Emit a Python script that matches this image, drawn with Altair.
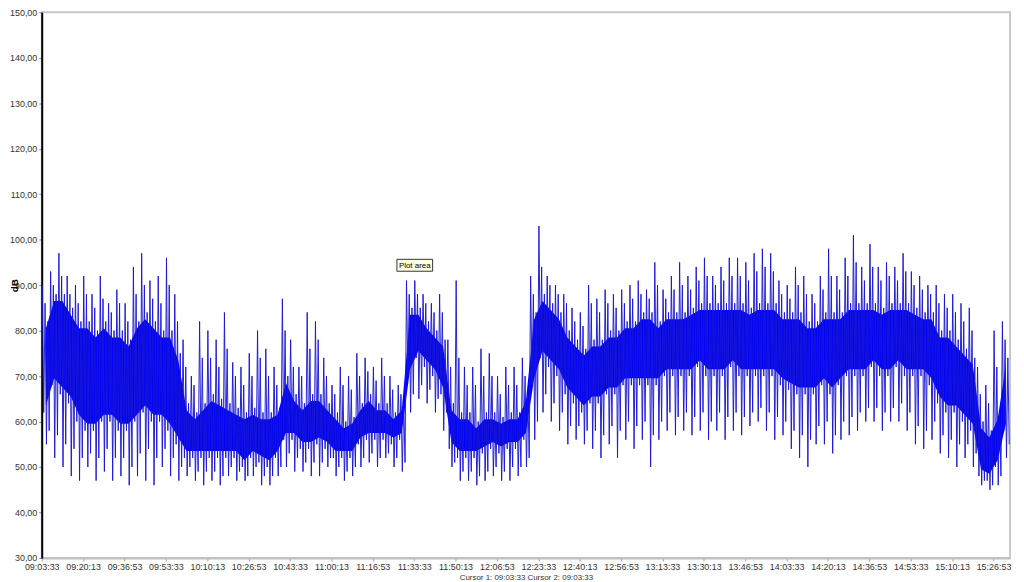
import altair as alt
import pandas as pd

# Start time 09:03:33 in seconds of the day, bin length in seconds
START_SEC = 32613
BIN = 200

# Per 200 s bin: dense core band (low/high) and spike extremes (dB)
core_lo = [62, 68, 66, 64, 60, 58, 58, 60, 60, 58, 58, 60, 62, 60, 60, 58, 55, 52, 52, 52,
           52, 52, 52, 52, 50, 52, 51, 50, 52, 56, 56, 54, 54, 55, 54, 52, 52, 52, 55, 56,
           56, 56, 55, 56, 70, 74, 72, 70, 66, 54, 52, 52, 52, 53, 54, 53, 54, 54, 56, 68,
           74, 72, 70, 66, 64, 62, 64, 64, 66, 66, 68, 68, 68, 68, 68, 70, 70, 70, 70, 72,
           70, 70, 70, 72, 70, 70, 70, 70, 70, 68, 67, 66, 66, 66, 68, 66, 68, 70, 70, 70,
           72, 70, 70, 72, 70, 70, 70, 68, 64, 62, 62, 60, 58, 48, 47, 50, 58]
core_hi = [82, 88, 88, 85, 82, 82, 80, 82, 80, 80, 78, 82, 84, 82, 80, 80, 75, 64, 62, 64,
           66, 65, 64, 63, 62, 63, 62, 62, 63, 70, 66, 64, 66, 66, 64, 62, 60, 61, 64, 66,
           64, 64, 62, 64, 85, 85, 82, 80, 78, 64, 62, 62, 60, 62, 62, 61, 62, 62, 66, 84,
           88, 86, 84, 80, 78, 76, 78, 78, 80, 80, 82, 82, 84, 84, 82, 84, 84, 84, 85, 86,
           86, 86, 86, 86, 86, 85, 86, 86, 86, 84, 84, 84, 82, 82, 84, 84, 84, 86, 86, 86,
           86, 85, 86, 86, 86, 85, 84, 84, 80, 80, 78, 76, 74, 60, 58, 62, 74]
spike_lo = [55, 52, 50, 48, 47, 50, 47, 49, 47, 48, 46, 48, 47, 46, 50, 48, 47, 48, 47, 46,
            47, 46, 48, 47, 47, 48, 46, 46, 48, 50, 49, 49, 48, 48, 50, 48, 47, 48, 50, 51,
            50, 52, 50, 49, 62, 65, 64, 62, 58, 50, 47, 47, 46, 47, 48, 47, 47, 48, 50, 56,
            62, 60, 58, 55, 56, 55, 54, 52, 55, 52, 56, 54, 56, 50, 56, 58, 57, 58, 57, 58,
            56, 58, 56, 58, 57, 59, 60, 58, 56, 57, 54, 52, 50, 55, 55, 53, 56, 57, 58, 60,
            60, 58, 60, 60, 58, 55, 54, 56, 53, 52, 50, 52, 50, 46, 45, 46, 52]
spike_hi = [90, 93, 97, 92, 90, 92, 88, 92, 86, 89, 86, 94, 97, 91, 92, 96, 88, 78, 70, 82,
            80, 78, 84, 73, 72, 75, 80, 76, 72, 87, 78, 72, 84, 82, 74, 68, 72, 70, 75, 74,
            72, 74, 70, 68, 91, 91, 88, 86, 88, 78, 91, 72, 72, 76, 75, 70, 72, 72, 74, 92,
            103, 92, 90, 88, 85, 84, 90, 87, 89, 88, 89, 90, 91, 89, 95, 89, 92, 95, 92, 94,
            96, 92, 94, 96, 96, 95, 97, 98, 97, 91, 90, 94, 92, 88, 92, 98, 92, 96, 101, 94,
            99, 94, 95, 94, 97, 93, 92, 90, 90, 88, 88, 86, 85, 72, 68, 80, 82]
# Secondary (smaller) spikes per bin
spike_hi2 = [86, 90, 92, 88, 86, 88, 85, 87, 84, 86, 82, 88, 90, 87, 86, 90, 82, 72, 68, 74,
             74, 72, 76, 70, 68, 70, 74, 70, 68, 80, 72, 70, 76, 78, 70, 66, 68, 67, 70, 71,
             69, 70, 67, 66, 88, 88, 86, 84, 84, 72, 74, 68, 68, 70, 70, 66, 68, 68, 70, 88,
             94, 90, 88, 86, 82, 81, 86, 84, 86, 85, 86, 87, 88, 87, 90, 87, 89, 90, 89, 91,
             92, 90, 91, 92, 92, 91, 93, 94, 93, 88, 87, 90, 88, 86, 89, 92, 89, 92, 95, 91,
             94, 91, 92, 91, 93, 90, 89, 88, 86, 85, 84, 82, 80, 66, 64, 72, 78]
spike_lo2 = [58, 57, 55, 54, 52, 53, 52, 54, 52, 52, 50, 53, 54, 52, 54, 52, 50, 50, 49, 49,
             49, 48, 50, 49, 48, 50, 48, 48, 50, 53, 52, 51, 51, 51, 52, 50, 49, 50, 52, 53,
             52, 53, 52, 51, 66, 68, 67, 65, 62, 51, 49, 49, 48, 49, 50, 49, 50, 50, 52, 60,
             66, 64, 62, 59, 59, 58, 58, 57, 59, 58, 60, 59, 60, 57, 60, 62, 61, 62, 61, 62,
             60, 62, 61, 62, 61, 62, 63, 62, 61, 60, 58, 57, 56, 59, 60, 57, 60, 61, 62, 63,
             63, 62, 63, 64, 62, 59, 58, 60, 57, 56, 55, 55, 53, 47, 46, 48, 55]

x_ticks = list(range(0, 23001, 1000))
y_ticks = list(range(30, 151, 10))

# Build tables from the arrays (six readings per bin, in time order)
rows = []
for i in range(len(core_lo)):
    t0 = i * BIN
    seq = [spike_hi[i], core_lo[i], spike_hi2[i], spike_lo[i], core_hi[i], spike_lo2[i]]
    for k, v in enumerate(seq):
        rows.append({"t": t0 + 15 + k * 33, "db": v})
line_df = pd.DataFrame(rows)
band_df = pd.DataFrame({
    "t": [i * BIN + BIN / 2 for i in range(len(core_lo))],
    "lo": [v + 1.5 for v in core_lo],
    "hi": [v - 1.5 for v in core_hi],
})

FONT = "Liberation Sans"

x_scale = alt.Scale(domain=[0, 23400], nice=False, zero=False)
y_scale = alt.Scale(domain=[30, 150], nice=False, zero=False)

x_axis = alt.Axis(
    values=x_ticks,
    labelExpr="utcFormat((datum.value + 32613) * 1000, '%H:%M:%S')",
    grid=False,
    domainColor="#c0c0c0",
    domainWidth=2,
    tickColor="#999999",
    tickSize=3,
    labelFont=FONT,
    labelFontSize=9,
    labelColor="#333333",
    labelOverlap=False,
    labelFlush=False,
    labelPadding=2,
    title="Cursor 1: 09:03:33    Cursor 2: 09:03:33",
    titleFont=FONT,
    titleFontSize=8,
    titleFontWeight="normal",
    titleColor="#333333",
    titlePadding=2,
)

y_axis = alt.Axis(
    values=y_ticks,
    labelExpr="replace(format(datum.value, '.2f'), '.', ',')",
    grid=False,
    domainColor="#000000",
    domainWidth=2,
    tickColor="#888888",
    tickSize=3,
    labelFont=FONT,
    labelFontSize=9,
    labelColor="#333333",
    labelFlush=False,
    labelPadding=2,
    title="dB",
    titleFont=FONT,
    titleFontSize=10,
    titleFontWeight="bold",
    titleColor="#000000",
    titleX=-22,
    titleBaseline="bottom",
)

band = alt.Chart(band_df).mark_area(
    color="#0000ff", opacity=1
).encode(
    x=alt.X("t:Q", scale=x_scale, axis=x_axis),
    y=alt.Y("lo:Q", scale=y_scale, axis=y_axis),
    y2="hi:Q",
)

spikes = alt.Chart(line_df).mark_line(
    color="#1616d4", strokeWidth=1, opacity=0.95
).encode(
    x=alt.X("t:Q", scale=x_scale, axis=x_axis),
    y=alt.Y("db:Q", scale=y_scale, axis=y_axis),
)

note_df = pd.DataFrame({"label": ["Plot area"]})
note_box = alt.Chart(note_df).mark_rect(
    fill="#ffffe1", stroke="#333333", strokeWidth=1
).encode(x=alt.value(358), x2=alt.value(394), y=alt.value(249), y2=alt.value(261))
note_text = alt.Chart(note_df).mark_text(
    font=FONT, fontSize=8, color="#000000"
).encode(x=alt.value(376), y=alt.value(255.5), text="label:N")

chart = alt.layer(band, spikes, note_box, note_text).properties(
    width=976,
    height=550,
    autosize=alt.AutoSizeParams(type="none"),
    padding={"left": 34, "top": 2, "right": 6, "bottom": 30},
    background="#ffffff",
).configure_view(stroke="#c8c8c8", strokeWidth=2)

chart.save("out.html", embed_options={"renderer": "svg", "actions": False})
